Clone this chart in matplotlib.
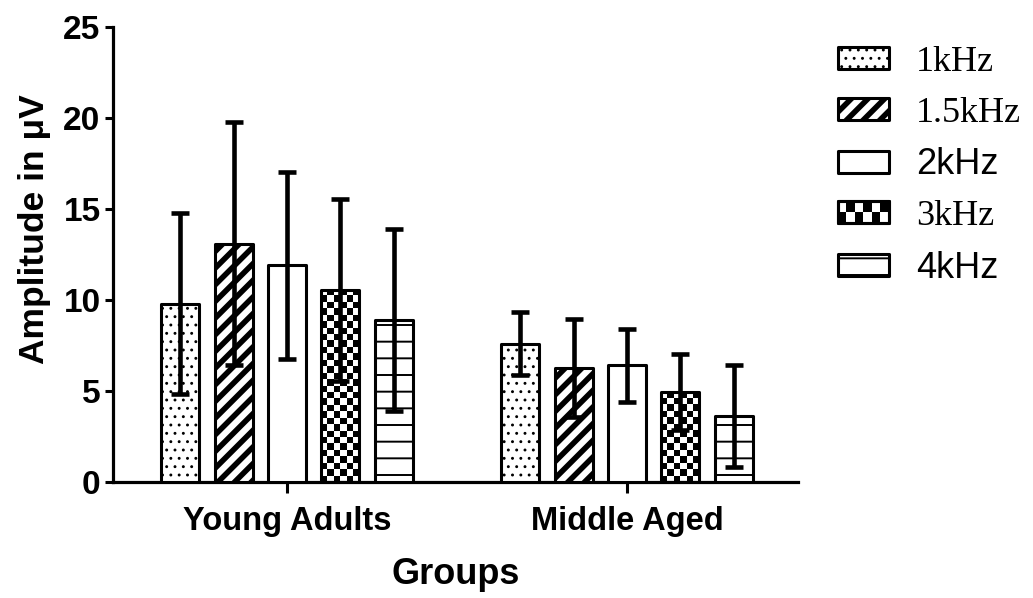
import matplotlib
matplotlib.use("Agg")
import matplotlib.pyplot as plt
import numpy as np
from matplotlib.patches import Rectangle

# data (mean and SD per frequency, per group)
groups = ["Young Adults", "Middle Aged"]
freqs = ["1kHz", "1.5kHz", "2kHz", "3kHz", "4kHz"]
mean_1k = [9.8, 7.6]
mean_15k = [13.1, 6.25]
mean_2k = [11.9, 6.4]
mean_3k = [10.55, 4.95]
mean_4k = [8.9, 3.6]
sd_1k = [4.95, 1.75]
sd_15k = [6.7, 2.7]
sd_2k = [5.15, 2.0]
sd_3k = [5.0, 2.1]
sd_4k = [5.0, 2.8]

means = [mean_1k, mean_15k, mean_2k, mean_3k, mean_4k]
sds = [sd_1k, sd_15k, sd_2k, sd_3k, sd_4k]

# fill style per series: hatch, hatch linewidth, checker?
styles = [("..", 0.9, False), ("//", 4.0, False), ("", 1.0, False),
          ("", 1.0, True), ("-", 1.4, False)]
label_fonts = ["Liberation Serif", "Liberation Serif", "Liberation Sans",
               "Liberation Serif", "Liberation Sans"]

plt.rcParams["font.family"] = ["Liberation Sans", "DejaVu Sans"]
plt.rcParams["font.weight"] = "bold"

DPI = 100
fig = plt.figure(figsize=(10.33, 5.98), dpi=DPI)
ax = fig.add_axes([0.1094, 0.194, 0.663, 0.761])
ax.set_xlim(-0.512, 1.503)
ax.set_ylim(0, 25)

x = np.arange(len(groups))
width = 0.112
step = 0.157
edge_lw = 2.2


def make_bars(xpos, vals, hatch, hlw, checker):
    with plt.rc_context({"hatch.linewidth": hlw}):
        bars = ax.bar(xpos, vals, width, facecolor="none" if checker else "white",
                      edgecolor="black", linewidth=edge_lw, hatch=hatch or None,
                      zorder=3, joinstyle="round")
    for b in bars:
        if hasattr(b, "set_hatch_linewidth"):
            b.set_hatch_linewidth(hlw)
    return bars


def add_checker(rect, cell_px=6.3):
    x0, w, h = rect.get_x(), rect.get_width(), rect.get_height()
    p0 = ax.transData.transform((x0, 0))
    p1 = ax.transData.transform((x0 + w, h))
    pw, ph = p1[0] - p0[0], p1[1] - p0[1]
    ncols = max(1, int(round(pw / cell_px)))
    nrows = max(1, int(round(ph / (pw / ncols))))
    arr = np.add.outer(np.arange(nrows), np.arange(ncols)) % 2
    im = ax.imshow(arr, cmap="gray", extent=(x0, x0 + w, 0, h), origin="lower",
                   aspect="auto", interpolation="nearest", zorder=2)
    im.set_clip_path(rect)


for i, (vals, err, st) in enumerate(zip(means, sds, styles)):
    xpos = x + (i - 2) * step
    bars = make_bars(xpos, vals, *st)
    if st[2]:
        for b in bars:
            add_checker(b)
    ax.errorbar(xpos, vals, yerr=err, fmt="none", ecolor="black",
                elinewidth=3.3, capsize=6.5, capthick=3.3, zorder=4)

ax.set_xlim(-0.512, 1.503)
ax.set_ylim(0, 25)

for s in ["top", "right"]:
    ax.spines[s].set_visible(False)
for s in ["left", "bottom"]:
    ax.spines[s].set_linewidth(2.3)

ax.set_yticks(np.arange(0, 26, 5))
ax.set_xticks(x)
ax.set_xticklabels(groups)
ax.tick_params(axis="y", length=6, width=2.2, labelsize=24, pad=3)
ax.tick_params(axis="x", length=8, width=2.2, labelsize=23.5, pad=9)
ax.set_ylabel("Amplitude in \u03bcV", fontsize=25.5, fontweight="bold")
ax.yaxis.set_label_coords(-0.09, 0.555)
ax.set_xlabel("Groups", fontsize=26, fontweight="bold", labelpad=15)


class SwatchHandler:
    def __init__(self, hatch, hlw, checker):
        self.hatch, self.hlw, self.checker = hatch, hlw, checker

    def legend_artist(self, legend, orig_handle, fontsize, handlebox):
        x0, y0 = -handlebox.xdescent, -handlebox.ydescent
        w, h = handlebox.width, handlebox.height
        tr = handlebox.get_transform()
        with plt.rc_context({"hatch.linewidth": self.hlw}):
            rect = Rectangle((x0, y0), w, h, facecolor="white", edgecolor="black",
                             linewidth=edge_lw, hatch=self.hatch or None,
                             joinstyle="round", transform=tr)
        if hasattr(rect, "set_hatch_linewidth"):
            rect.set_hatch_linewidth(self.hlw)
        handlebox.add_artist(rect)
        if self.checker:
            nr, nc = 2, 6
            cw, ch = w / nc, h / nr
            for r in range(nr):
                for c in range(nc):
                    if (r + c) % 2 == 0:
                        sq = Rectangle((x0 + c * cw, y0 + r * ch), cw, ch,
                                       facecolor="black", edgecolor="none",
                                       transform=tr)
                        handlebox.add_artist(sq)
            edge = Rectangle((x0, y0), w, h, facecolor="none", edgecolor="black",
                             linewidth=edge_lw, joinstyle="round", transform=tr)
            handlebox.add_artist(edge)
        return rect


handles = [Rectangle((0, 0), 1, 1) for _ in freqs]
hmap = {h: SwatchHandler(*st) for h, st in zip(handles, styles)}
leg = fig.legend(handles, freqs, handler_map=hmap, loc="upper left",
                 bbox_to_anchor=(0.811, 0.923), frameon=False,
                 prop={"size": 26, "weight": "normal"},
                 handlelength=1.42, handleheight=0.55, handletextpad=0.75,
                 labelspacing=0.49, borderpad=0, borderaxespad=0)
for t, fam in zip(leg.get_texts(), label_fonts):
    t.set_fontfamily(fam)
    t.set_fontweight("normal")

fig.savefig("out.png", dpi=DPI)
